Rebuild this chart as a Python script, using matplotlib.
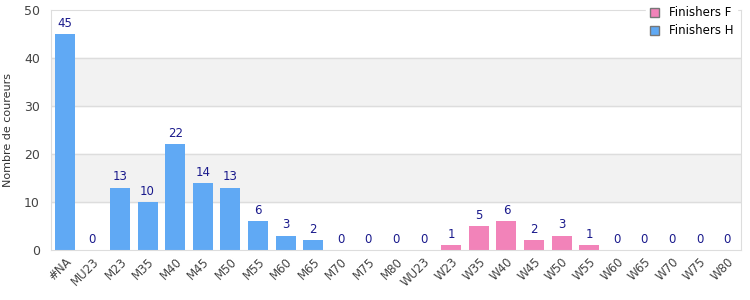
import matplotlib.pyplot as plt
import numpy as np

categories = ['#NA', 'MU23', 'M23', 'M35', 'M40', 'M45', 'M50', 'M55', 'M60', 'M65',
              'M70', 'M75', 'M80', 'WU23', 'W23', 'W35', 'W40', 'W45', 'W50', 'W55',
              'W60', 'W65', 'W70', 'W75', 'W80']
nan = np.nan
finishers_h = [45, 0, 13, 10, 22, 14, 13, 6, 3, 2, 0, 0, 0,
               nan, nan, nan, nan, nan, nan, nan, nan, nan, nan, nan, nan]
finishers_f = [nan, nan, nan, nan, nan, nan, nan, nan, nan, nan, nan, nan, nan,
               0, 1, 5, 6, 2, 3, 1, 0, 0, 0, 0, 0]

blue = '#60a9f4'
pink = '#f283b9'
label_col = '#1a1a8c'
grid_col = '#dddddd'

plt.rcParams['font.family'] = ['DejaVu Sans']
fig = plt.figure(figsize=(7.5, 3), dpi=100)
ax = fig.add_axes([0.068, 0.167, 0.92, 0.8])

x = np.arange(len(categories))
ax.set_xlim(-0.5, len(categories) - 0.5)
ax.set_ylim(0, 50)

for lo in (10, 30):
    ax.axhspan(lo, lo + 10, color='#f2f2f2', zorder=0)
for y in (10, 20, 30, 40):
    ax.axhline(y, color=grid_col, lw=1, zorder=1)

bh = ax.bar(x, np.nan_to_num(finishers_h), width=0.73, color=blue, zorder=2, label='Finishers H')
bf = ax.bar(x, np.nan_to_num(finishers_f), width=0.73, color=pink, zorder=2, label='Finishers F')

for series in (finishers_h, finishers_f):
    for xi, v in zip(x, series):
        if np.isnan(v):
            continue
        ax.annotate(f'{int(v)}', (xi, v), xytext=(0, 3), textcoords='offset points',
                    ha='center', va='bottom', fontsize=8.5, color=label_col)

for s in ax.spines.values():
    s.set_color(grid_col)
ax.set_xticks(x)
ax.set_xticklabels(categories, rotation=45, ha='right', rotation_mode='anchor',
                   fontsize=8.5, color='#444444')
ax.set_yticks([0, 10, 20, 30, 40, 50])
ax.tick_params(axis='y', labelsize=9, colors='#444444', length=0, pad=8)
ax.tick_params(axis='x', length=0, pad=4)
ax.set_ylabel('Nombre de coureurs', fontsize=8, color='#333333', labelpad=8)

leg = fig.legend(handles=[bf, bh], loc='upper right', bbox_to_anchor=(0.99, 1.01),
                 fontsize=8.5, frameon=True, handlelength=0.8, handleheight=0.8,
                 handletextpad=0.8, borderpad=0.3, labelspacing=0.4)
leg.get_frame().set_edgecolor('white')
leg.get_frame().set_alpha(1)
for p in leg.get_patches():
    p.set_edgecolor('#777777')
    p.set_linewidth(1)

fig.savefig('out.png', dpi=100)
